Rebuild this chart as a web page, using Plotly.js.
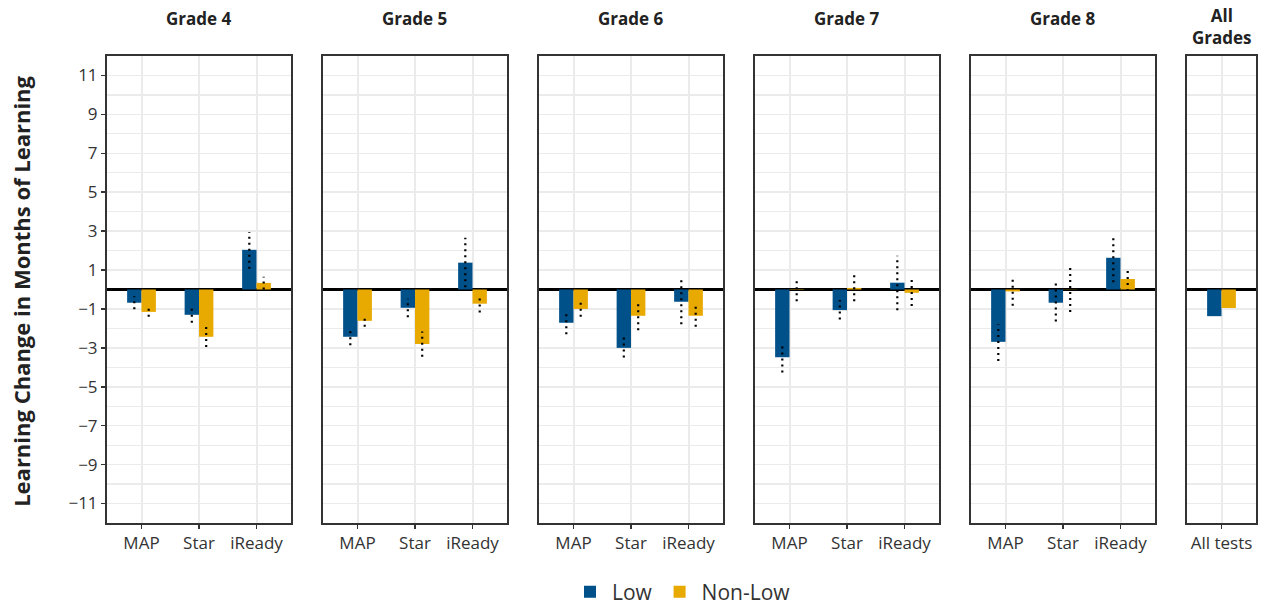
<!DOCTYPE html>
<html>
<head>
<meta charset="utf-8">
<script src="https://cdn.plot.ly/plotly-3.0.1.min.js"></script>
<style>
  html, body { margin: 0; padding: 0; background: #fff; }
  #chart { width: 1262px; height: 607px; }
</style>
</head>
<body>
<div id="chart"></div>
<script>
// ---------- data ----------
const panelTitles = ["Grade 4", "Grade 5", "Grade 6", "Grade 7", "Grade 8", "All<br>Grades"];
const tests = ["MAP", "Star", "iReady"];
const allTests = ["All tests"];

const lowG4 = [-0.68, -1.30, 2.04];
const nonLowG4 = [-1.15, -2.43, 0.34];
const lowG4Lo = [-1.02, -1.71, 1.06];
const lowG4Hi = [-0.35, -0.85, 2.95];
const nonLowG4Lo = [-1.40, -2.95, 0.00];
const nonLowG4Hi = [-0.89, -1.92, 0.66];

const lowG5 = [-2.43, -0.94, 1.38];
const nonLowG5 = [-1.61, -2.80, -0.73];
const lowG5Lo = [-2.86, -1.43, 0.11];
const lowG5Hi = [-2.05, -0.47, 2.66];
const nonLowG5Lo = [-1.92, -3.45, -1.18];
const nonLowG5Hi = [-1.33, -2.16, -0.32];

const lowG6 = [-1.71, -3.00, -0.63];
const nonLowG6 = [-1.00, -1.35, -1.35];
const lowG6Lo = [-2.30, -3.50, -1.78];
const lowG6Hi = [-1.15, -2.47, 0.53];
const nonLowG6Lo = [-1.40, -2.09, -1.92];
const nonLowG6Hi = [-0.58, -0.63, -0.80];

const lowG7 = [-3.48, -1.06, 0.35];
const nonLowG7 = [-0.02, 0.08, -0.17];
const lowG7Lo = [-4.27, -1.54, -1.06];
const lowG7Hi = [-2.72, -0.54, 1.73];
const nonLowG7Lo = [-0.61, -0.60, -0.85];
const nonLowG7Hi = [0.53, 0.73, 0.56];

const lowG8 = [-2.69, -0.68, 1.63];
const nonLowG8 = [-0.10, 0.01, 0.54];
const lowG8Lo = [-3.67, -1.64, 0.37];
const lowG8Hi = [-1.78, 0.32, 2.80];
const nonLowG8Lo = [-0.84, -1.15, -0.08];
const nonLowG8Hi = [0.58, 1.15, 1.07];

const lowAll = [-1.37];
const nonLowAll = [-0.95];

const yTickVals = [-11, -9, -7, -5, -3, -1, 1, 3, 5, 7, 9, 11];
const yMinorVals = [-12, -10, -8, -6, -4, -2, 2, 4, 6, 8, 10, 12];

// ---------- styling ----------
const LOW_COLOR = "#00508A";
const NONLOW_COLOR = "#E8A900";
const FONT = "'Open Sans', Lato, sans-serif";
const TEXT = "#333333";
const GRID = "#EBEBEB";
const BORDER = "#333333";

const panels = [
  { cats: tests, low: lowG4, non: nonLowG4, lowLo: lowG4Lo, lowHi: lowG4Hi, nonLo: nonLowG4Lo, nonHi: nonLowG4Hi },
  { cats: tests, low: lowG5, non: nonLowG5, lowLo: lowG5Lo, lowHi: lowG5Hi, nonLo: nonLowG5Lo, nonHi: nonLowG5Hi },
  { cats: tests, low: lowG6, non: nonLowG6, lowLo: lowG6Lo, lowHi: lowG6Hi, nonLo: nonLowG6Lo, nonHi: nonLowG6Hi },
  { cats: tests, low: lowG7, non: nonLowG7, lowLo: lowG7Lo, lowHi: lowG7Hi, nonLo: nonLowG7Lo, nonHi: nonLowG7Hi },
  { cats: tests, low: lowG8, non: nonLowG8, lowLo: lowG8Lo, lowHi: lowG8Hi, nonLo: nonLowG8Lo, nonHi: nonLowG8Hi },
  { cats: allTests, low: lowAll, non: nonLowAll }
];

// geometry (pixels inside plot area)
const W = 1262, H = 607;
const M = { l: 107, r: 5, t: 56, b: 84 };
const plotW = W - M.l - M.r;
const plotH = H - M.t - M.b;
const unitPx = 57.5;      // px per category unit
const gapPx = 32;
const BAR_W = 0.25;
const OFF = 0.125;

const traces = [];
const layout = {
  width: W, height: H,
  margin: Object.assign({ autoexpand: false }, M),
  paper_bgcolor: "#fff",
  plot_bgcolor: "#fff",
  font: { family: FONT, color: TEXT, size: 17 },
  barmode: "overlay",
  showlegend: true,
  legend: {
    orientation: "h", x: 0.5, xref: "paper", xanchor: "center",
    yref: "container", y: 15 / H, yanchor: "middle",
    font: { size: 21, color: TEXT, family: FONT }, itemwidth: 34, traceorder: "normal"
  },
  annotations: []
};

let left = 0;
panels.forEach((p, k) => {
  const idx = k + 1;
  const xa = "x" + (idx === 1 ? "" : idx);
  const ya = "y" + (idx === 1 ? "" : idx);
  const n = p.cats.length;
  const widthPx = (n + 0.2) * unitPx;
  const d0 = left / plotW, d1 = Math.min(1, (left + widthPx) / plotW);
  left += widthPx + gapPx;
  const pos = p.cats.map((_, i) => i);

  traces.push({
    type: "bar", x: pos.map(v => v - OFF), y: p.low, width: BAR_W,
    marker: { color: LOW_COLOR, line: { width: 0 } }, name: "Low",
    xaxis: xa, yaxis: ya, showlegend: k === 0, legendgroup: "low", hoverinfo: "skip"
  });
  traces.push({
    type: "bar", x: pos.map(v => v + OFF), y: p.non, width: BAR_W,
    marker: { color: NONLOW_COLOR, line: { width: 0 } }, name: "Non-Low",
    xaxis: xa, yaxis: ya, showlegend: k === 0, legendgroup: "non", hoverinfo: "skip"
  });

  if (p.lowLo) {
    const ex = [], ey = [];
    pos.forEach(i => {
      ex.push(i - OFF, i - OFF, null); ey.push(p.lowLo[i], p.lowHi[i], null);
      ex.push(i + OFF, i + OFF, null); ey.push(p.nonLo[i], p.nonHi[i], null);
    });
    traces.push({
      type: "scatter", mode: "lines", x: ex, y: ey, xaxis: xa, yaxis: ya,
      line: { color: "#000", width: 2.2, dash: "2px,4px" }, showlegend: false, hoverinfo: "skip"
    });
  }

  layout["xaxis" + (idx === 1 ? "" : idx)] = {
    domain: [d0, d1], anchor: ya, range: [-0.6, n - 0.4],
    tickmode: "array", tickvals: pos, ticktext: p.cats,
    showgrid: true, gridcolor: GRID, gridwidth: 2,
    zeroline: false, showline: true, mirror: true, linecolor: BORDER, linewidth: 2,
    ticks: "outside", ticklen: 4, tickwidth: 1.5, tickcolor: BORDER,
    tickfont: { size: 17, color: TEXT, family: FONT }, fixedrange: true, automargin: false
  };
  layout["yaxis" + (idx === 1 ? "" : idx)] = {
    domain: [0, 1], anchor: xa, range: [-12, 12],
    tickmode: "array", tickvals: yTickVals,
    showticklabels: idx === 1,
    ticks: idx === 1 ? "outside" : "", ticklen: 4, tickwidth: 1.5, tickcolor: BORDER,
    showgrid: true, gridcolor: GRID, gridwidth: 1.5,
    minor: { tickvals: yMinorVals, showgrid: true, gridcolor: GRID, gridwidth: 1.3, ticks: "" },
    zeroline: true, zerolinecolor: "#000", zerolinewidth: 2.5,
    showline: true, mirror: true, linecolor: BORDER, linewidth: 2,
    tickfont: { size: 17, color: TEXT, family: FONT }, fixedrange: true, automargin: false
  };

  layout.annotations.push({
    xref: "paper", yref: "paper", x: (d0 + d1) / 2, y: 1 + (idx === 6 ? 29 : 38) / plotH,
    xanchor: "center", yanchor: "middle", showarrow: false,
    text: "<b>" + panelTitles[k] + "</b>",
    font: { size: 17, color: "#222", family: FONT }
  });
});

layout.annotations.push({
  xref: "paper", yref: "paper", x: -86 / plotW, y: 0.495,
  xanchor: "center", yanchor: "middle", showarrow: false, textangle: -90,
  text: "<b>Learning Change in Months of Learning</b>",
  font: { size: 22, color: "#222", family: FONT }
});

Plotly.newPlot("chart", traces, layout, { staticPlot: true, displayModeBar: false });
</script>
</body>
</html>
